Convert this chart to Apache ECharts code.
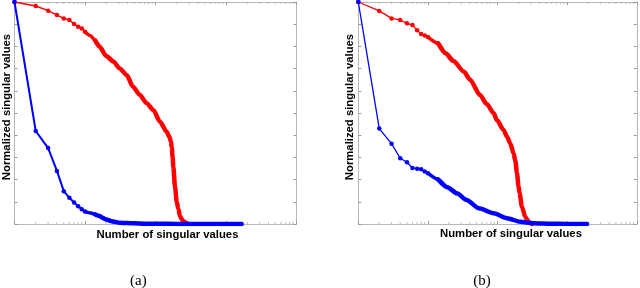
<!DOCTYPE html>
<html><head><meta charset="utf-8">
<script src="https://cdn.jsdelivr.net/npm/echarts/dist/echarts.min.js"></script>
<style>html,body{margin:0;padding:0;background:#fff}#c{width:640px;height:288px}</style>
</head><body><div id="c"></div>
<script>
// ----- data (index of singular value, normalized value) -----
const leftBlueIdx = [1,2,3,4,5,6,7,8,9,10,12,14,16,18,20,25,31,40,50,70,100,200,500,1000,1670];
const leftBlueVal = [1.0,0.419,0.342,0.239,0.148,0.118,0.097,0.080,0.066,0.056,0.050,0.043,0.036,0.027,0.020,0.011,0.006,0.004,0.003,0.0015,0.001,0.0005,0.0002,0.0001,0];
const leftRedIdx = [1,2,3,4,5,6,7,8,9,10,12,14,16,20,25,31,39,48,60,75,93,116,144,157,166,170,175,179,189,200,211,223,243,262,285,295];
const leftRedVal = [1.0,0.982,0.961,0.941,0.926,0.919,0.901,0.889,0.881,0.866,0.848,0.826,0.800,0.757,0.733,0.701,0.671,0.618,0.581,0.544,0.514,0.461,0.416,0.393,0.37,0.345,0.30,0.258,0.168,0.10,0.068,0.035,0.015,0.008,0.002,0];
const rightBlueIdx = [1,2,3,4,5,6,7,8,9,10,14,19,26,36,54,88,137,212,330,600,1000,1930];
const rightBlueVal = [1.0,0.430,0.362,0.296,0.278,0.252,0.249,0.247,0.236,0.229,0.201,0.166,0.138,0.108,0.071,0.048,0.026,0.010,0.003,0.001,0.0005,0];
const rightRedIdx = [1,2,3,4,5,6,7,8,9,10,14,18,23,33,40,56,70,88,98,122,137,152,170,180,190,200,207,224,250,275,296,310];
const rightRedVal = [1.0,0.960,0.926,0.919,0.904,0.896,0.873,0.856,0.849,0.842,0.814,0.769,0.735,0.686,0.651,0.581,0.54,0.499,0.468,0.423,0.393,0.364,0.318,0.285,0.23,0.17,0.14,0.078,0.033,0.012,0.005,0];
const minorTickX = [2,3,4,5,6,7,8,9,20,30,40,50,60,70,80,90,200,300,400,500,600,700,800,900,2000,3000,4000,5000,6000,7000,8000,9000];
const yLabel = 'Normalized singular values';
const xLabel = 'Number of singular values';
const captions = ['(a)', '(b)'];

const RED = '#ff0000', BLUE = '#0000ff';
function pairs(ix, vals, lo, hi){ const out=[]; for(let i=0;i<ix.length;i++){ if(ix[i]>=lo && ix[i]<=hi) out.push([ix[i], vals[i]]); } return out; }

const grids = [
  {left:14.5, top:2, width:282, height:222},
  {left:358.3, top:2, width:278.5, height:222}
];
const axLine = {show:true, onZero:false, lineStyle:{color:'#b8b8b8', width:1}};
const axTick = {show:true, inside:true, length:3, lineStyle:{color:'#999', width:1}};
const xAxis=[], yAxis=[];
[0,1].forEach(g=>{
  ['bottom','top'].forEach(p=>xAxis.push({type:'log', logBase:10, gridIndex:g, position:p, min:1, max:10000, splitNumber:4,
    axisLine:axLine, axisTick:axTick, axisLabel:{show:false}, splitLine:{show:false}}));
  ['left','right'].forEach(p=>yAxis.push({type:'value', gridIndex:g, position:p, min:0, max:1, interval:0.1,
    axisLine:axLine, axisTick:axTick, axisLabel:{show:false}, splitLine:{show:false}}));
});

function curve(g, ix, vals, color, thinW, z){
  const xi = g*2, yi = g*2;
  const dense = (lo, hi, w) => ({type:'line', xAxisIndex:xi, yAxisIndex:yi, data:pairs(ix, vals, lo, hi), z:z,
     symbol:'none', smooth:0.25, smoothMonotone:'x', lineStyle:{color:color, width:w, cap:'round', join:'round'}, animation:false, silent:true});
  return [
    {type:'line', xAxisIndex:xi, yAxisIndex:yi, data:pairs(ix, vals, 1, 10), z:z,
     symbol:'circle', symbolSize:4.5, showSymbol:true, lineStyle:{color:color, width:thinW}, itemStyle:{color:color}, animation:false, silent:true},
    dense(10, 30, 3.5),
    dense(14, 1e9, 4.5)
  ];
}
function minorTicks(g){
  const xi=g*2, yi=g*2;
  return [
    {type:'scatter', xAxisIndex:xi, yAxisIndex:yi, data:minorTickX.map(v=>[v,0]), symbol:'rect', symbolSize:[1,2], symbolOffset:[0,-1], itemStyle:{color:'#aaa'}, animation:false, silent:true, z:1},
    {type:'scatter', xAxisIndex:xi, yAxisIndex:yi, data:minorTickX.map(v=>[v,1]), symbol:'rect', symbolSize:[1,2], symbolOffset:[0,1], itemStyle:{color:'#aaa'}, animation:false, silent:true, z:1}
  ];
}

const series = [].concat(
  minorTicks(0), minorTicks(1),
  curve(0, leftRedIdx, leftRedVal, RED, 1.5, 3),
  curve(0, leftBlueIdx, leftBlueVal, BLUE, 2, 4),
  curve(1, rightRedIdx, rightRedVal, RED, 1.3, 3),
  curve(1, rightBlueIdx, rightBlueVal, BLUE, 1.3, 4)
);

const lblFont = {fontSize:11.3, fontWeight:'bold', fontFamily:'"Liberation Sans", Arial, sans-serif', fill:'#000', align:'center', verticalAlign:'middle'};
const capFont = {fontSize:15, fontFamily:'"Liberation Serif", "Times New Roman", serif', fill:'#000', align:'center', verticalAlign:'middle'};
const graphic = [
  {type:'text', x:7, y:107, rotation:Math.PI/2, style:Object.assign({text:yLabel}, lblFont)},
  {type:'text', x:350, y:107, rotation:Math.PI/2, style:Object.assign({text:yLabel}, lblFont)},
  {type:'text', x:167.5, y:234.5, style:Object.assign({text:xLabel}, lblFont)},
  {type:'text', x:511, y:234, style:Object.assign({text:xLabel}, lblFont)},
  {type:'text', x:138.3, y:281, style:Object.assign({text:captions[0]}, capFont)},
  {type:'text', x:482, y:281, style:Object.assign({text:captions[1]}, capFont)}
];

const chart = echarts.init(document.getElementById('c'), null, {renderer:'canvas'});
chart.setOption({animation:false, backgroundColor:'#fff', grid:grids, xAxis:xAxis, yAxis:yAxis, series:series, graphic:graphic});
</script></body></html>
